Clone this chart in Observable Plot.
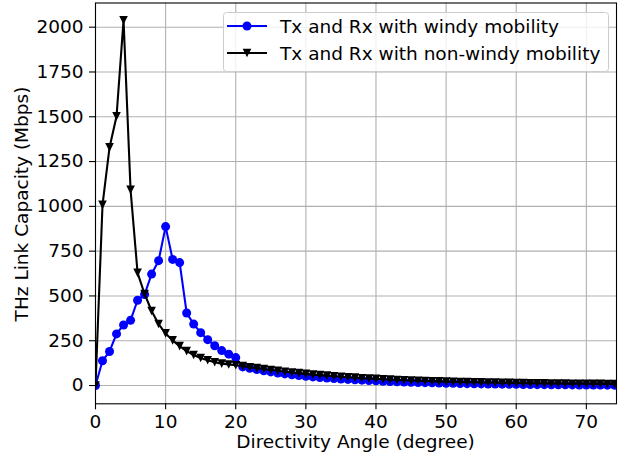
<!DOCTYPE html>
<html><head><meta charset="utf-8">
<script src="https://cdn.jsdelivr.net/npm/d3@7"></script>
<script src="https://cdn.jsdelivr.net/npm/@observablehq/plot@0.6"></script>
<style>body{margin:0;background:#fff} #chart{width:624px;height:458px}</style>
</head><body><div id="chart"></div>
<script>
const angles = [0,1,2,3,4,5,6,7,8,9,10,11,12,13,14,15,16,17,18,19,20,21,22,23,24,25,26,27,28,29,30,31,32,33,34,35,36,37,38,39,40,41,42,43,44,45,46,47,48,49,50,51,52,53,54,55,56,57,58,59,60,61,62,63,64,65,66,67,68,69,70,71,72,73,74];
const windy = [0,138,190,288,338,364,476,508,622,697,887,704,686,405,343,295,256,222,195,175,156,104,96,89,82,76,70,65,60,56,52,48,45,42,39,36,34,32,30,28,26,24,22,21,19,18,17,16,15,14,13,12,11,10.5,10,9,8.5,8,7.5,7,6.5,6,5.5,5,5,4.5,4,4,3.5,3,3,3,2.5,2,2];
const nonWindy = [0,1008,1329,1503,2039,1092,629,511,416,343,291,252,220,192,170,154,141,130,122,117,113,108,102,97,92,87,82,77,73,69,65,61,58,55,52,49,46,44,41,39,37,35,33,31,29.5,28,26.5,25,24,23,22,21,20,19,18,17.5,17,16,15.5,15,14,13.5,13,12.5,12,11.5,11,10.5,10,10,9.5,9,9,8.5,8];
const xTicks = [0,10,20,30,40,50,60,70];
const yTicks = [0,250,500,750,1000,1250,1500,1750,2000];
const seriesNames = ["Tx and Rx with windy mobility", "Tx and Rx with non-windy mobility"];
const seriesColors = ["#0000ff", "#000000"];
const xLabel = "Directivity Angle (degree)";
const yLabel = "THz Link Capacity (Mbps)";

const rows = angles.map((a, i) => ({a, w: windy[i], n: nonWindy[i]}));

const triDown = {
  draw(ctx, size) {
    const s = Math.sqrt(size / Math.PI);
    ctx.moveTo(0, s); ctx.lineTo(-s, -s); ctx.lineTo(s, -s); ctx.closePath();
  }
};

const FS = 18.5;
const ff = "DejaVu Sans";
const grid = {stroke: "#b0b0b0", strokeOpacity: 1, strokeWidth: 1.1};

const svg = Plot.plot({
  width: 624, height: 458,
  marginLeft: 95, marginRight: 8, marginTop: 2.5, marginBottom: 54.7,
  style: {fontFamily: ff, fontSize: FS + "px", color: "black", background: "white", overflow: "visible"},
  x: {domain: [0, 74.3]},
  y: {domain: [-102, 2135]},
  marks: [
    Plot.gridX(xTicks, grid),
    Plot.gridY(yTicks, grid),
    Plot.line(rows, {x: "a", y: "w", stroke: seriesColors[0], strokeWidth: 2.1, clip: true}),
    Plot.dot(rows, {x: "a", y: "w", fill: seriesColors[0], stroke: "none", r: 4.5, clip: true}),
    Plot.line(rows, {x: "a", y: "n", stroke: seriesColors[1], strokeWidth: 2.1, clip: true}),
    Plot.dot(rows, {x: "a", y: "n", fill: seriesColors[1], stroke: "none", r: 4.3, symbol: triDown, clip: true}),
    Plot.frame({stroke: "black", strokeWidth: 1.1}),
    Plot.axisX({ticks: xTicks, tickSize: 6, tickPadding: 5, label: null, strokeWidth: 1.1, fontSize: FS}),
    Plot.axisY({ticks: yTicks, tickSize: 6, tickPadding: 6, label: null, tickFormat: d => String(d), strokeWidth: 1.1, fontSize: FS})
  ]
});
document.getElementById("chart").appendChild(svg);

const s = d3.select(svg);
s.append("text").attr("x", 355.5).attr("y", 448).attr("text-anchor", "middle")
  .attr("font-family", ff).attr("font-size", FS).attr("fill", "black").text(xLabel);
s.append("text").attr("transform", "translate(27.5,204) rotate(-90)").attr("text-anchor", "middle")
  .attr("font-family", ff).attr("font-size", FS).attr("fill", "black").text(yLabel);

const lg = s.append("g");
lg.append("rect").attr("x", 223.5).attr("y", 12.5).attr("width", 385).attr("height", 59).attr("rx", 3)
  .attr("fill", "white").attr("fill-opacity", 0.8).attr("stroke", "#cccccc");
const ys = [26, 53];
seriesNames.forEach((name, i) => {
  const y = ys[i];
  lg.append("line").attr("x1", 227).attr("x2", 267).attr("y1", y).attr("y2", y)
    .attr("stroke", seriesColors[i]).attr("stroke-width", 2.1);
  if (i === 0) {
    lg.append("circle").attr("cx", 247).attr("cy", y).attr("r", 4.5).attr("fill", seriesColors[i]);
  } else {
    lg.append("path").attr("d", `M247,${y + 4.3}L${247 - 4.3},${y - 4.3}L${247 + 4.3},${y - 4.3}Z`).attr("fill", seriesColors[i]);
  }
  lg.append("text").attr("x", 280).attr("y", y + 6.7).attr("text-anchor", "start")
    .attr("font-family", ff).attr("font-size", FS).attr("fill", "black").text(name);
});
</script></body></html>
